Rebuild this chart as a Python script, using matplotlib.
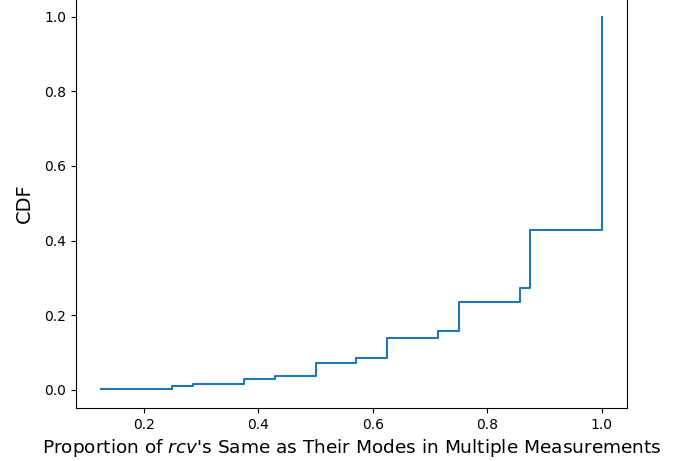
import matplotlib
matplotlib.use("Agg")
import matplotlib.pyplot as plt

# proportion values (sorted) and CDF
proportions = [0.125, 0.25, 0.2857, 0.375, 0.4286, 0.5, 0.5714, 0.625,
               0.7143, 0.75, 0.8571, 0.875, 1.0]
cdf = [0.001, 0.011, 0.016, 0.029, 0.038, 0.071, 0.086, 0.139,
       0.158, 0.236, 0.272, 0.428, 1.0]

fig = plt.figure(figsize=(6.89, 4.61), dpi=100)
ax = fig.add_subplot(111)
fig.subplots_adjust(left=0.110, right=0.910, bottom=0.115, top=1.004)

ax.step(proportions, cdf, where="post", color="tab:blue", linewidth=1.5)

ax.set_xlabel("Proportion of $rcv$'s Same as Their Modes in Multiple Measurements", fontsize=13.3)
ax.set_ylabel("CDF", fontsize=14, labelpad=7)
ax.set_xticks([0.2, 0.4, 0.6, 0.8, 1.0])
ax.set_yticks([0.0, 0.2, 0.4, 0.6, 0.8, 1.0])

fig.savefig("out.png", dpi=100)
